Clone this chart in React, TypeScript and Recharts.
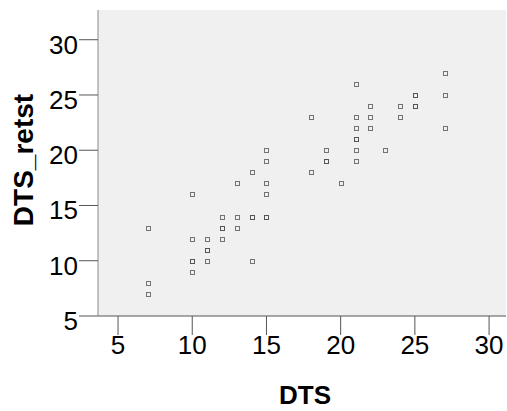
import { ScatterChart, Scatter, XAxis, YAxis, CartesianGrid } from "recharts";

// DTS (x) against DTS_retst (y), one entry per subject; repeats are overlapping subjects
const dtsValues = [
  27, 21, 25, 25, 27, 22, 24, 25, 25, 18, 21, 22, 24, 21, 22, 27, 21, 21, 19, 21,
  23, 15, 19, 19, 21, 15, 18, 14, 20, 13, 15, 10, 15, 12, 13, 14, 14, 15, 15, 7,
  12, 12, 13, 10, 11, 12, 11, 11, 10, 10, 11, 14, 10, 7, 7,
];
const retestValues = [
  27, 26, 25, 25, 25, 24, 24, 24, 24, 23, 23, 23, 23, 22, 22, 22, 21, 21, 20, 20,
  20, 20, 19, 19, 19, 19, 18, 18, 17, 17, 17, 16, 16, 14, 14, 14, 14, 14, 14, 13,
  13, 13, 13, 12, 12, 12, 11, 11, 10, 10, 10, 10, 9, 8, 7,
];
const xTicks = [5, 10, 15, 20, 25, 30];
const yTicks = [5, 10, 15, 20, 25, 30];

const points = dtsValues.map((x, i) => ({ x, y: retestValues[i] }));

const FONT = "'Liberation Sans', Arial, sans-serif";

const SquareMarker = (props: any) => {
  const cx = Math.round(props.cx) + 0.5;
  const cy = Math.round(props.cy) + 0.5;
  return (
    <rect
      x={cx - 2}
      y={cy - 2}
      width={4}
      height={4}
      fill="none"
      stroke="#4a4a4a"
      strokeOpacity={0.75}
      strokeWidth={1}
    />
  );
};

const XTick = ({ x, y, payload }: any) => (
  <text x={x} y={y + 18} textAnchor="middle" fontFamily={FONT} fontSize={26} fill="#000">
    {payload.value}
  </text>
);

const YTick = ({ x, y, payload }: any) => (
  <text x={x} y={y + 14} textAnchor="end" fontFamily={FONT} fontSize={26} fill="#000">
    {payload.value}
  </text>
);

export default function App() {
  return (
    <div style={{ position: "absolute", left: 0, top: 0, background: "#fff" }}>
      <ScatterChart
        width={507}
        height={411}
        margin={{ top: 10, right: 1, left: 0, bottom: 0 }}
      >
        <CartesianGrid fill="#f0f0f0" horizontal={false} vertical={false} />
        <XAxis
          xAxisId="top"
          orientation="top"
          dataKey="x"
          type="number"
          domain={[3.65, 31.14]}
          allowDataOverflow
          height={0}
          tick={false}
          tickLine={false}
          axisLine={{ stroke: "#8a8a8a", strokeWidth: 1.5 }}
        />
        <XAxis
          dataKey="x"
          type="number"
          domain={[3.65, 31.14]}
          allowDataOverflow
          ticks={xTicks}
          height={95}
          tickSize={19}
          tickMargin={1}
          tick={<XTick />}
          tickLine={{ stroke: "#555" }}
          axisLine={{ stroke: "#555" }}
          label={{
            content: () => (
              <text
                x={305}
                y={404}
                textAnchor="middle"
                fontFamily={FONT}
                fontSize={26}
                fontWeight="bold"
                fill="#000"
              >
                DTS
              </text>
            ),
          }}
        />
        <YAxis
          dataKey="y"
          type="number"
          domain={[5, 32.69]}
          allowDataOverflow
          ticks={yTicks}
          width={98}
          tickSize={19}
          tickMargin={1}
          tick={<YTick />}
          tickLine={{ stroke: "#555" }}
          axisLine={{ stroke: "#8a8a8a" }}
          label={{
            content: () => (
              <text
                x={33}
                y={160}
                textAnchor="middle"
                transform="rotate(-90, 33, 160)"
                fontFamily={FONT}
                fontSize={28}
                fontWeight="bold"
                fill="#000"
              >
                DTS_retst
              </text>
            ),
          }}
        />
        <Scatter data={points} shape={<SquareMarker />} isAnimationActive={false} />
      </ScatterChart>
    </div>
  );
}
